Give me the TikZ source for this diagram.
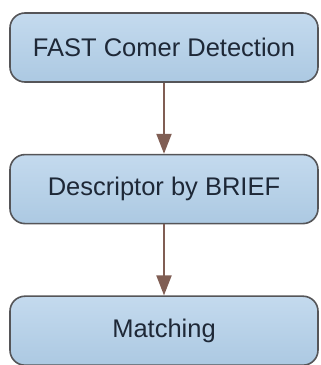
\documentclass[tikz,border=0pt]{standalone}
\usepackage{fontspec}
\setmainfont{Liberation Sans}
\usepackage{tikz}
\usetikzlibrary{arrows.meta,positioning}

\definecolor{boxfill}{RGB}{172,201,226}
\definecolor{boxtop}{RGB}{196,218,238}
\definecolor{boxline}{RGB}{85,85,88}
\definecolor{arrowcol}{RGB}{128,94,84}
\definecolor{textcol}{RGB}{30,40,55}

\begin{document}
\begin{tikzpicture}[
  node distance=71pt,
  stage/.style={rectangle, rounded corners=15pt, draw=boxline, line width=1.6pt, align=center,
    minimum width=308pt, minimum height=69pt, top color=boxtop, bottom color=boxfill,
    text=textcol, font=\fontsize{25.5}{30}\selectfont},
  arrow/.style={-{Triangle[length=20pt, width=15pt]}, line width=2pt, draw=arrowcol, fill=arrowcol}
]
  \useasboundingbox (0,0) rectangle (321pt,365pt);
  \node[stage] (fast) at (164pt,317.5pt) {FAST Comer Detection};
  \node[stage, below=of fast] (brief) {Descriptor by BRIEF};
  \node[stage, below=of brief] (match) {Matching};
  \draw[arrow] (fast) -- (brief);
  \draw[arrow] (brief) -- (match);
\end{tikzpicture}
\end{document}
